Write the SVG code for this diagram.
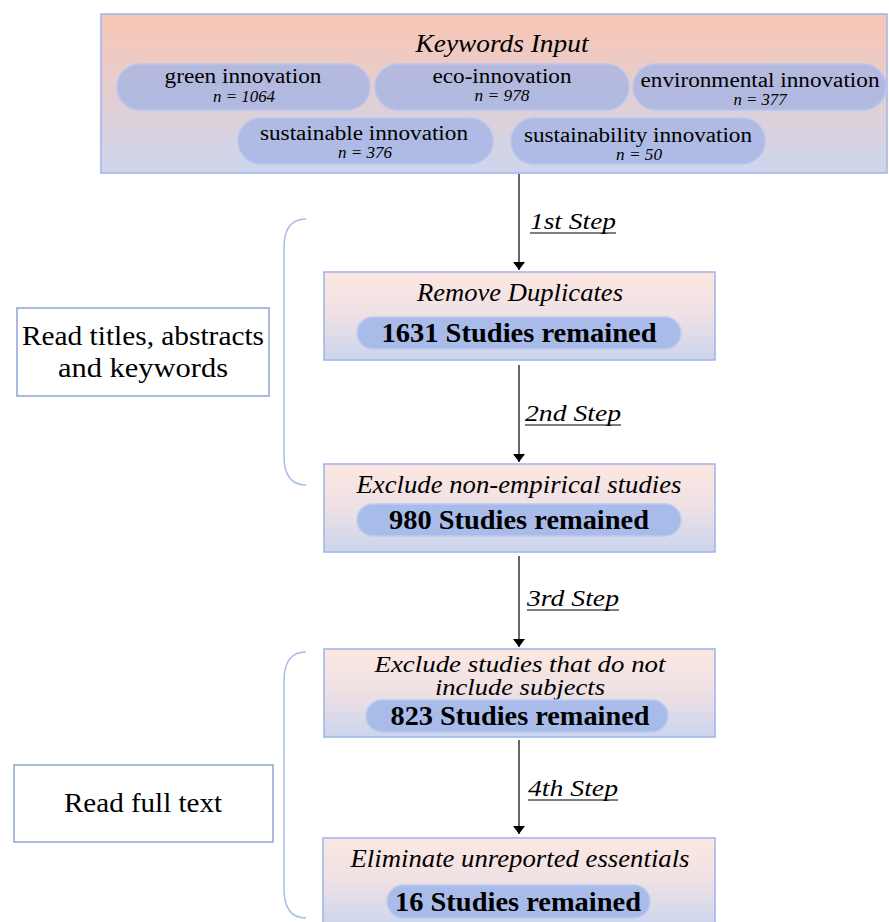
<svg xmlns="http://www.w3.org/2000/svg" width="889" height="922" viewBox="0 0 889 922">
<defs>
<linearGradient id="gTop" x1="0" y1="0" x2="0" y2="1">
<stop offset="0" stop-color="#f9c6b4"/>
<stop offset="1" stop-color="#cdd6ee"/>
</linearGradient>
<linearGradient id="gBox" x1="0" y1="0" x2="0" y2="1">
<stop offset="0" stop-color="#fce8e2"/>
<stop offset="0.5" stop-color="#eee0e4"/>
<stop offset="1" stop-color="#cbd5ee"/>
</linearGradient>
<marker id="ah" viewBox="0 0 8 12" refX="8" refY="6" markerWidth="8" markerHeight="12" markerUnits="userSpaceOnUse" orient="auto">
<path d="M0,0 L8,6 L0,12 Z" fill="#000"/>
</marker>
</defs>
<style>
.box{fill:url(#gBox);stroke:#9fb3ea;stroke-width:1.5}
.top{fill:url(#gTop);stroke:#9fb3ea;stroke-width:1.5}
.kp{fill:#9fb2e4;fill-opacity:0.72;stroke:#b6c6f0;stroke-width:1.5}
.sp{fill:#a9bce9;stroke:#bccbf2;stroke-width:1.5}
.side{fill:#fff;stroke:#8ea2d4;stroke-width:1.5}
.t{font-family:"Liberation Serif","Times New Roman",serif;fill:#000;text-anchor:middle}
.it{font-style:italic}
.b{font-weight:bold}
.conn{stroke:#000;stroke-width:1.2;fill:none}
.brace{stroke:#aabde9;stroke-width:1.5;fill:none}
.u{stroke:#000;stroke-width:1.2}
</style>

<g id="keywords">
<rect class="top" x="101" y="14" width="786" height="159"/>
<text class="t it" x="502" y="52" font-size="26" textLength="173" lengthAdjust="spacingAndGlyphs">Keywords Input</text>
<rect class="kp" x="117" y="64" width="253" height="46" rx="23"/>
<text class="t" x="243" y="83" font-size="20" textLength="157" lengthAdjust="spacingAndGlyphs">green innovation</text>
<text class="t it" x="244" y="102" font-size="16" textLength="62" lengthAdjust="spacingAndGlyphs">n = 1064</text>
<rect class="kp" x="375" y="64" width="254" height="46" rx="23"/>
<text class="t" x="502" y="83" font-size="20" textLength="139" lengthAdjust="spacingAndGlyphs">eco-innovation</text>
<text class="t it" x="502" y="101" font-size="16" textLength="55" lengthAdjust="spacingAndGlyphs">n = 978</text>
<rect class="kp" x="633" y="64" width="253" height="46" rx="23"/>
<text class="t" x="760" y="87" font-size="20" textLength="239" lengthAdjust="spacingAndGlyphs">environmental innovation</text>
<text class="t it" x="760" y="105" font-size="16" textLength="53" lengthAdjust="spacingAndGlyphs">n = 377</text>
<rect class="kp" x="238" y="118" width="255" height="46" rx="23"/>
<text class="t" x="364" y="140" font-size="20" textLength="208" lengthAdjust="spacingAndGlyphs">sustainable innovation</text>
<text class="t it" x="365" y="158" font-size="16" textLength="54" lengthAdjust="spacingAndGlyphs">n = 376</text>
<rect class="kp" x="511" y="118" width="254" height="46" rx="23"/>
<text class="t" x="638" y="142" font-size="20" textLength="228" lengthAdjust="spacingAndGlyphs">sustainability innovation</text>
<text class="t it" x="639" y="160" font-size="16" textLength="46" lengthAdjust="spacingAndGlyphs">n = 50</text>
</g>

<g id="step1">
<rect class="box" x="324" y="272" width="391" height="88"/>
<text class="t it" x="520" y="301" font-size="25" textLength="206" lengthAdjust="spacingAndGlyphs">Remove Duplicates</text>
<rect class="sp" x="357" y="317" width="324" height="32" rx="16"/>
<text class="t b" x="519" y="342" font-size="27" textLength="275" lengthAdjust="spacingAndGlyphs">1631 Studies remained</text>
</g>

<g id="step2">
<rect class="box" x="324" y="464" width="391" height="88"/>
<text class="t it" x="519" y="493" font-size="25" textLength="325" lengthAdjust="spacingAndGlyphs">Exclude non-empirical studies</text>
<rect class="sp" x="357" y="504" width="324" height="32" rx="16"/>
<text class="t b" x="519" y="529" font-size="27" textLength="260" lengthAdjust="spacingAndGlyphs">980 Studies remained</text>
</g>

<g id="step3">
<rect class="box" x="324" y="649" width="391" height="88"/>
<text class="t it" x="520" y="672" font-size="23" textLength="291" lengthAdjust="spacingAndGlyphs">Exclude studies that do not</text>
<text class="t it" x="520" y="695" font-size="23" textLength="170" lengthAdjust="spacingAndGlyphs">include subjects</text>
<rect class="sp" x="366" y="700" width="302" height="32" rx="16"/>
<text class="t b" x="520" y="725" font-size="28" textLength="259" lengthAdjust="spacingAndGlyphs">823 Studies remained</text>
</g>

<g id="step4">
<rect class="box" x="323" y="838" width="392" height="90"/>
<text class="t it" x="520" y="867" font-size="26" textLength="339" lengthAdjust="spacingAndGlyphs">Eliminate unreported essentials</text>
<rect class="sp" x="387" y="885" width="263" height="33" rx="16.5"/>
<text class="t b" x="518" y="911" font-size="28" textLength="246" lengthAdjust="spacingAndGlyphs">16 Studies remained</text>
</g>

<g id="note1">
<rect class="side" x="17" y="308" width="252" height="88"/>
<text class="t" x="143" y="345" font-size="27" textLength="242" lengthAdjust="spacingAndGlyphs">Read titles, abstracts</text>
<text class="t" x="143" y="377" font-size="27" textLength="170" lengthAdjust="spacingAndGlyphs">and keywords</text>
</g>

<g id="note2">
<rect class="side" x="14" y="765" width="259" height="77"/>
<text class="t" x="143" y="812" font-size="27" textLength="158" lengthAdjust="spacingAndGlyphs">Read full text</text>
</g>

<g id="connectors">
<line class="conn" x1="519" y1="174" x2="519" y2="270" marker-end="url(#ah)"/>
<line class="conn" x1="519" y1="365" x2="519" y2="462" marker-end="url(#ah)"/>
<line class="conn" x1="519" y1="556" x2="519" y2="647" marker-end="url(#ah)"/>
<line class="conn" x1="519" y1="740" x2="519" y2="834" marker-end="url(#ah)"/>
<path class="brace" d="M306,219 C292,219 284,228 284,248 L284,456 C284,476 292,485 306,485"/>
<path class="brace" d="M306,652 C292,652 284,661 284,681 L284,889 C284,909 292,918 306,918"/>
<text class="t it" x="573" y="229" font-size="24" textLength="86" lengthAdjust="spacingAndGlyphs">1st Step</text>
<line class="u" x1="530" y1="233" x2="616" y2="233"/>
<text class="t it" x="573" y="421" font-size="24" textLength="96" lengthAdjust="spacingAndGlyphs">2nd Step</text>
<line class="u" x1="525" y1="425" x2="621" y2="425"/>
<text class="t it" x="573" y="606" font-size="24" textLength="92" lengthAdjust="spacingAndGlyphs">3rd Step</text>
<line class="u" x1="527" y1="610" x2="619" y2="610"/>
<text class="t it" x="573" y="796" font-size="24" textLength="90" lengthAdjust="spacingAndGlyphs">4th Step</text>
<line class="u" x1="528" y1="800" x2="618" y2="800"/>
</g>
</svg>
